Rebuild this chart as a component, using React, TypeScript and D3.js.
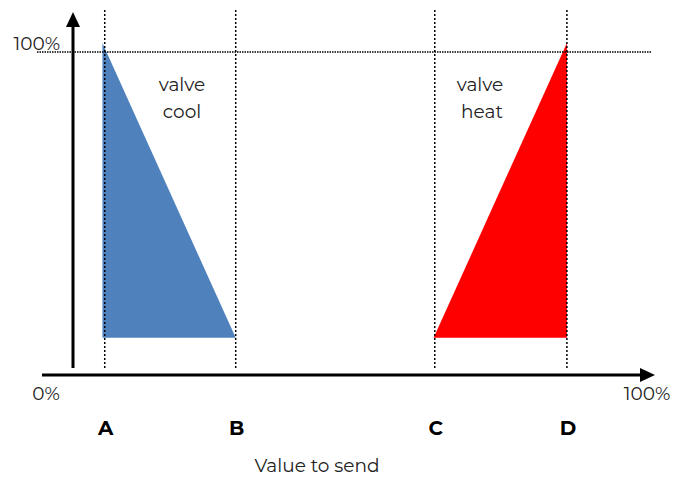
import React from "react";
import * as d3 from "d3";

// Threshold points on the "value to send" axis (percent of axis length)
const thresholdLabels = ["A", "B", "C", "D"];
const thresholdValues = [5.5, 28.2, 62.7, 85.6];

// Valve output curves (x in value %, y in valve %)
const coolX = [5.1, 5.1, 28.2];
const coolY = [102.8, 11.5, 11.5];
const heatX = [85.6, 85.6, 62.5];
const heatY = [102.8, 11.5, 11.5];

const axisLabels = ["0%", "100%"];
const yTopLabel = "100%";
const coolLabel = ["valve", "cool"];
const heatLabel = ["valve", "heat"];
const xTitle = "Value to send";

const W = 686;
const H = 477;

export default function App() {
  const x = d3.scaleLinear().domain([0, 100]).range([73, 650]);
  const y = d3.scaleLinear().domain([0, 100]).range([375, 52]);

  const line = d3
    .line<[number, number]>()
    .x((d) => x(d[0]))
    .y((d) => y(d[1]));

  const coolPts: [number, number][] = coolX.map((v, i) => [v, coolY[i]]);
  const heatPts: [number, number][] = heatX.map((v, i) => [v, heatY[i]]);

  const font = "Montserrat, 'Open Sans', sans-serif";
  const x0 = x(0);
  const yBase = y(0);
  const fs = 18.5;

  return (
    <svg
      width={W}
      height={H}
      style={{ position: "absolute", left: 0, top: 0, background: "#fff" }}
      fontFamily={font}
    >
      {/* triangles */}
      <path d={line(coolPts) + "Z"} fill="#4F81BD" />
      <path d={line(heatPts) + "Z"} fill="#FF0000" />

      {/* dotted verticals */}
      {thresholdValues.map((v, i) => (
        <line
          key={i}
          x1={x(v)}
          x2={x(v)}
          y1={10}
          y2={368}
          stroke="#000"
          strokeWidth={1.5}
          strokeDasharray="2 2"
        />
      ))}
      {/* dotted 100% line */}
      <line
        x1={37}
        x2={651}
        y1={y(100)}
        y2={y(100)}
        stroke="#000"
        strokeWidth={1.3}
        strokeDasharray="1.5 1"
      />

      {/* y axis */}
      <line x1={x0} x2={x0} y1={368} y2={24} stroke="#000" strokeWidth={3} />
      <path d={`M${x0 - 7},27 L${x0},12 L${x0 + 7},27 Z`} fill="#000" />
      {/* x axis */}
      <line x1={42} x2={642} y1={yBase} y2={yBase} stroke="#000" strokeWidth={3} />
      <path d={`M640,${yBase - 7} L655,${yBase} L640,${yBase + 7} Z`} fill="#000" />

      {/* axis labels */}
      <text x={60} y={50} fontSize={fs} textAnchor="end" fill="#222">
        {yTopLabel}
      </text>
      <text x={46} y={400} fontSize={fs} textAnchor="middle" fill="#222">
        {axisLabels[0]}
      </text>
      <text x={647} y={400} fontSize={fs} textAnchor="middle" fill="#222">
        {axisLabels[1]}
      </text>

      {thresholdLabels.map((l, i) => (
        <text
          key={l}
          x={x(thresholdValues[i]) + 1}
          y={435}
          fontSize={20}
          fontWeight="bold"
          textAnchor="middle"
          fill="#000"
        >
          {l}
        </text>
      ))}

      <text x={182} y={91} fontSize={fs} textAnchor="middle" fill="#222">
        {coolLabel[0]}
      </text>
      <text x={182} y={118} fontSize={fs} textAnchor="middle" fill="#222">
        {coolLabel[1]}
      </text>
      <text x={480} y={91} fontSize={fs} textAnchor="middle" fill="#222">
        {heatLabel[0]}
      </text>
      <text x={482} y={118} fontSize={fs} textAnchor="middle" fill="#222">
        {heatLabel[1]}
      </text>

      <text x={317} y={472} fontSize={fs} textAnchor="middle" fill="#222">
        {xTitle}
      </text>
    </svg>
  );
}
